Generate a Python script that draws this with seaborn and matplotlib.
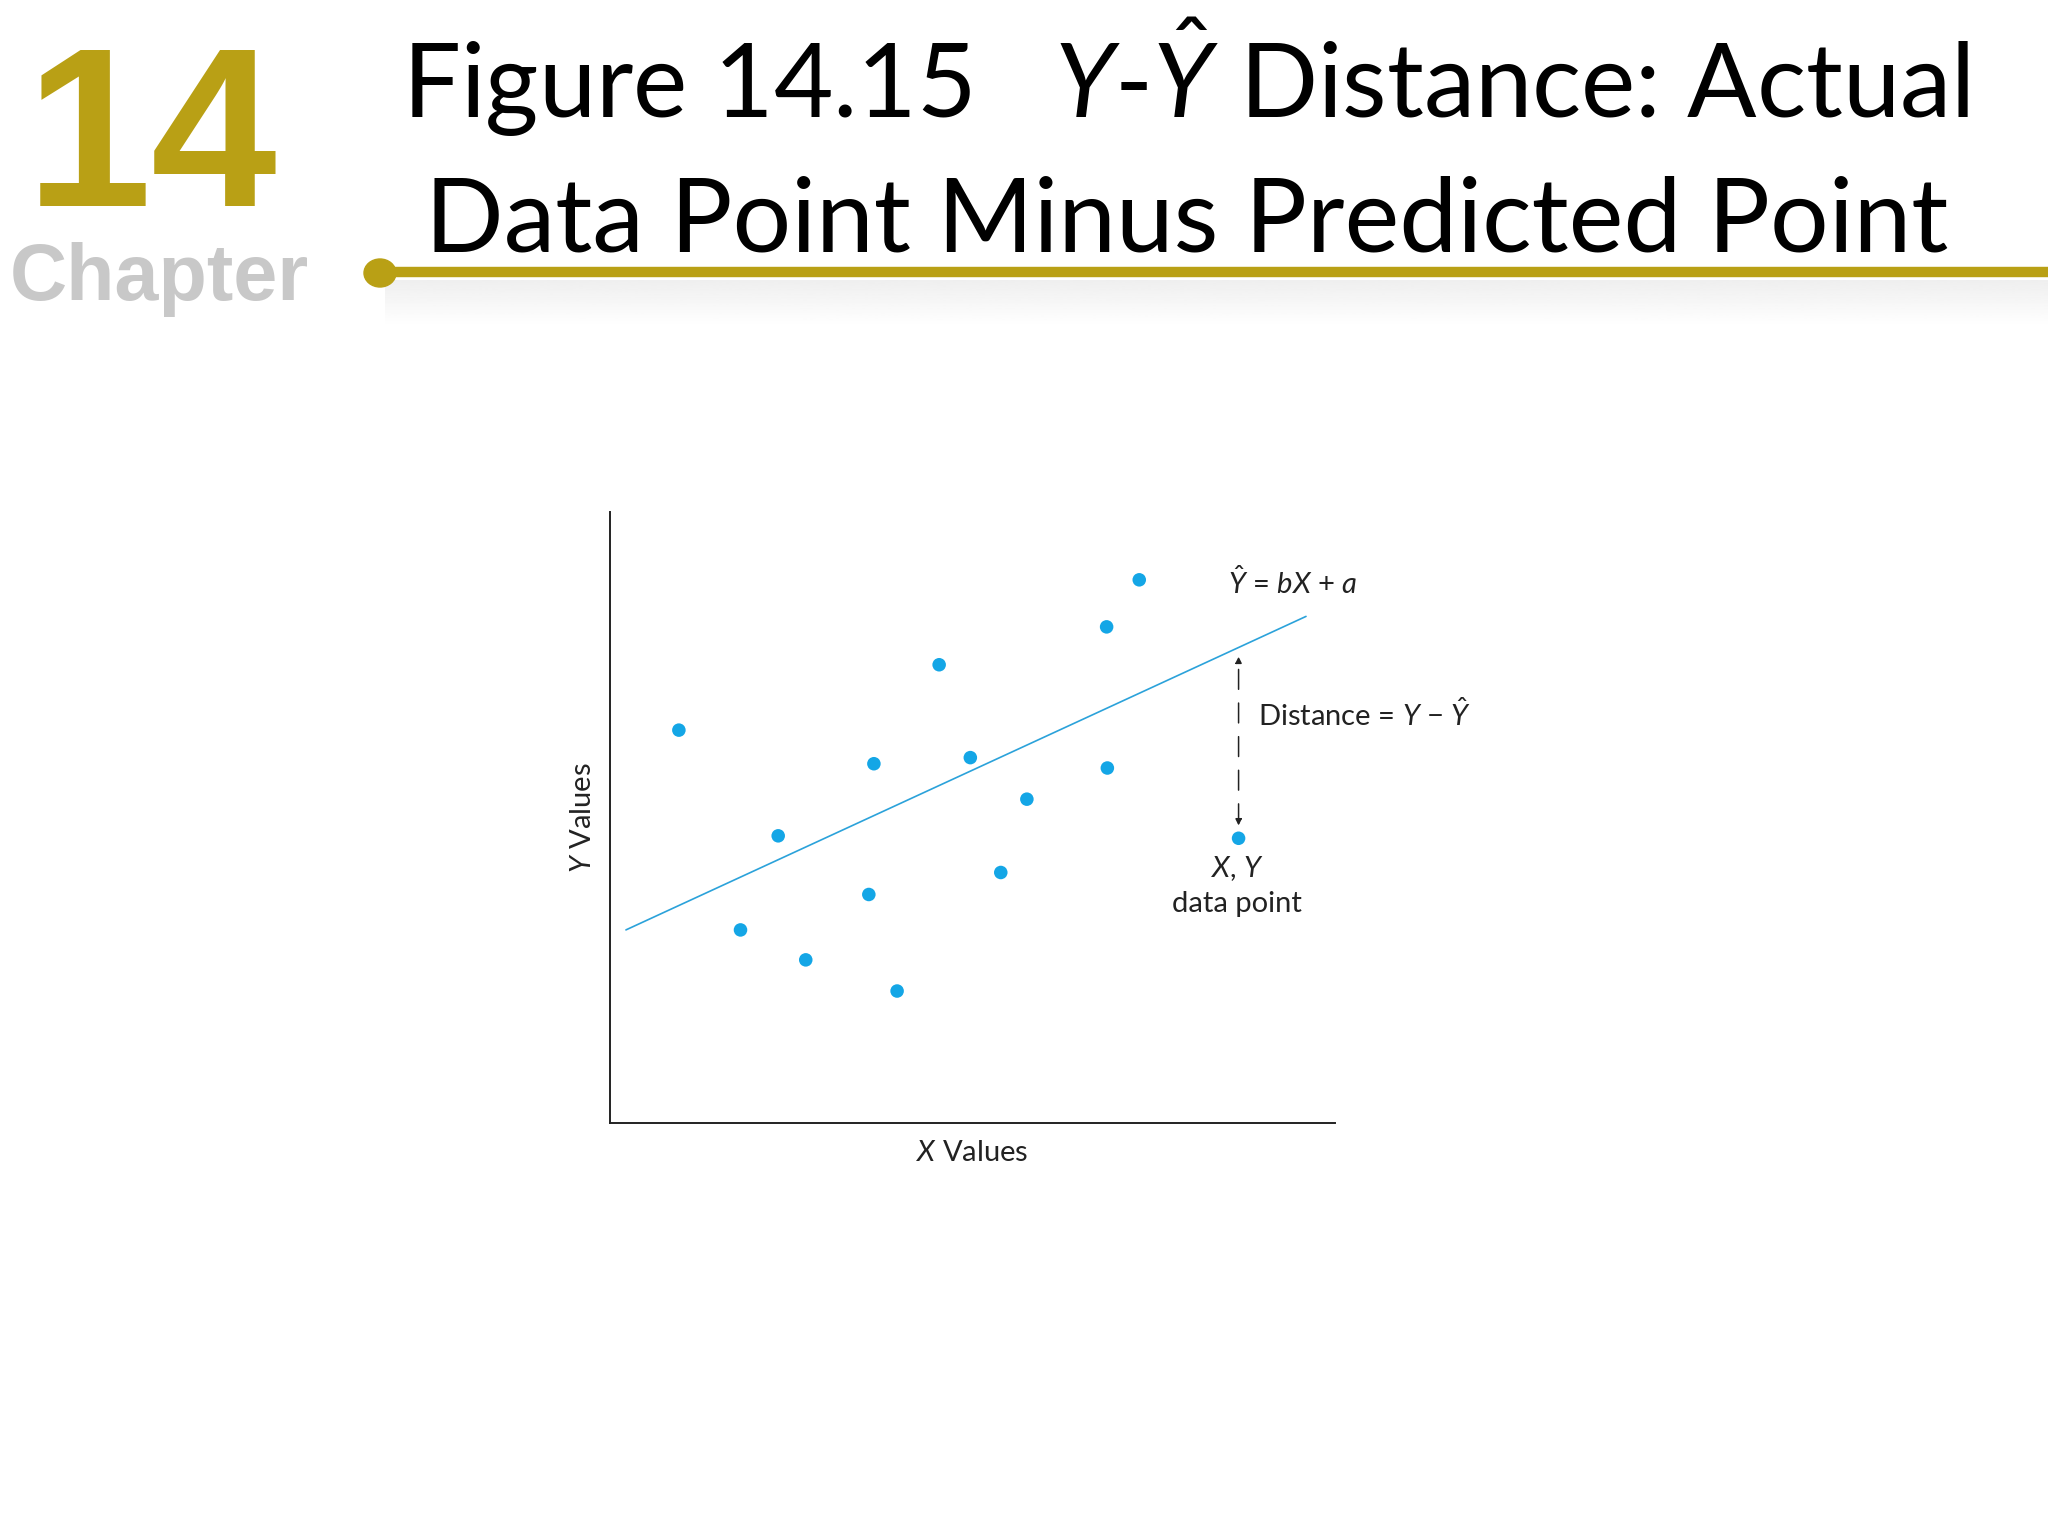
import numpy as np
import pandas as pd
import matplotlib
matplotlib.use("Agg")
import matplotlib.pyplot as plt
from matplotlib.patches import Ellipse
import seaborn as sns

# data (axes run 0-100 in both directions, no ticks)
x_vals = [9.5, 23.2, 18.0, 27.0, 36.4, 35.7, 39.6, 45.4, 49.7, 57.5, 53.9, 68.5, 68.6, 73.0, 86.7]
y_vals = [64.3, 47.0, 31.6, 26.7, 58.8, 37.4, 21.6, 75.0, 59.8, 53.0, 41.0, 81.2, 58.1, 88.9, 46.6]
line_x = [2.2, 96.0]
slope_b = 0.547
intercept_a = 30.4
marked_x = 86.7
marked_y = 46.6

title_1 = r"Figure 14.15   $Y$-$\hat{Y}$ Distance: Actual"
title_2 = "Data Point Minus Predicted Point"

W, H = 2048, 1536
GOLD = "#B9A015"
BLUE = "#14A6E6"
INK = "#222222"

sns.set_theme(style="white")
plt.rcParams["font.family"] = ["Lato", "DejaVu Sans"]
plt.rcParams["mathtext.fontset"] = "custom"
plt.rcParams["mathtext.rm"] = "Lato"
plt.rcParams["mathtext.it"] = "Lato:italic"

def fx(px):
    return px / W

def fy(py):
    return 1 - py / H

fig = plt.figure(figsize=(20.48, 15.36), dpi=100)
fig.patch.set_facecolor("white")

# faint grey band under the header rule
band = fig.add_axes([fx(385), fy(326), fx(W) - fx(385), fy(280) - fy(326)])
grad = np.linspace(0.935, 1.0, 50).reshape(-1, 1)
band.imshow(np.repeat(grad, 2, axis=1), cmap="gray", vmin=0, vmax=1, aspect="auto",
            extent=[0, 1, 0, 1], origin="upper")
band.set_axis_off()

# header: chapter number, rule and dot
fig.text(fx(26), fy(206), "14", fontsize=163, fontweight="bold", color=GOLD,
         family="Liberation Sans", va="baseline", ha="left")
fig.text(fx(10), fy(300), "Chapter", fontsize=57, fontweight="bold", color="#C8C8C8",
         family="Liberation Sans", va="baseline", ha="left")
fig.add_artist(plt.Line2D([fx(379), 1.0], [fy(272), fy(272)], color=GOLD, lw=7.5,
                          transform=fig.transFigure))
fig.add_artist(Ellipse((fx(380), fy(273)), fx(32), 28 / H, color=GOLD,
                       transform=fig.transFigure))

fig.text(fx(1186), fy(118), title_1, fontsize=74, ha="center", va="baseline", color="black")
fig.text(fx(1187), fy(252), title_2, fontsize=74.5, ha="center", va="baseline", color="black")

# the chart itself
ax = fig.add_axes([fx(610), fy(1123), fx(1335) - fx(610), fy(512) - fy(1123)])
pts = pd.DataFrame({"x": x_vals, "y": y_vals})
sns.scatterplot(data=pts, x="x", y="y", ax=ax, s=95, color=BLUE, edgecolor="none", zorder=3)
fit = pd.DataFrame({"x": line_x})
fit["y"] = slope_b * fit["x"] + intercept_a
sns.lineplot(data=fit, x="x", y="y", ax=ax, color="#2BA2DA", lw=1.2)

ax.set_xlim(0, 100)
ax.set_ylim(0, 100)
ax.set_xticks([])
ax.set_yticks([])
sns.despine(ax=ax)
for side in ["left", "bottom"]:
    ax.spines[side].set_color(INK)
    ax.spines[side].set_linewidth(1.4)
ax.set_facecolor("white")
ax.patch.set_alpha(0)

ax.set_xlabel(r"$X$ Values", fontsize=21, labelpad=12, color=INK)
ax.set_ylabel(r"$Y$ Values", fontsize=21, labelpad=10, color=INK)

# distance arrow between the point and the fitted line
top_y = slope_b * marked_x + intercept_a - 1.5
ax.annotate("", xy=(marked_x, top_y), xytext=(marked_x, marked_y + 2.1),
            arrowprops=dict(arrowstyle="<|-|>", color=INK, lw=1.1,
                            linestyle=(0, (13, 9)), mutation_scale=9,
                            shrinkA=0, shrinkB=0))

ax.text(85.2, 88.5, r"$\hat{Y}$ = $bX$ + $a$", fontsize=21, va="center", ha="left", color=INK)
ax.text(89.4, 66.9, r"Distance = $Y$ $-$ $\hat{Y}$", fontsize=21, va="center", ha="left",
        color=INK)
ax.text(86.5, 41.7, r"$X$, $Y$", fontsize=21, va="center", ha="center", color=INK)
ax.text(86.5, 35.9, "data point", fontsize=21, va="center", ha="center", color=INK)

fig.savefig("out.png", dpi=100, facecolor="white")
